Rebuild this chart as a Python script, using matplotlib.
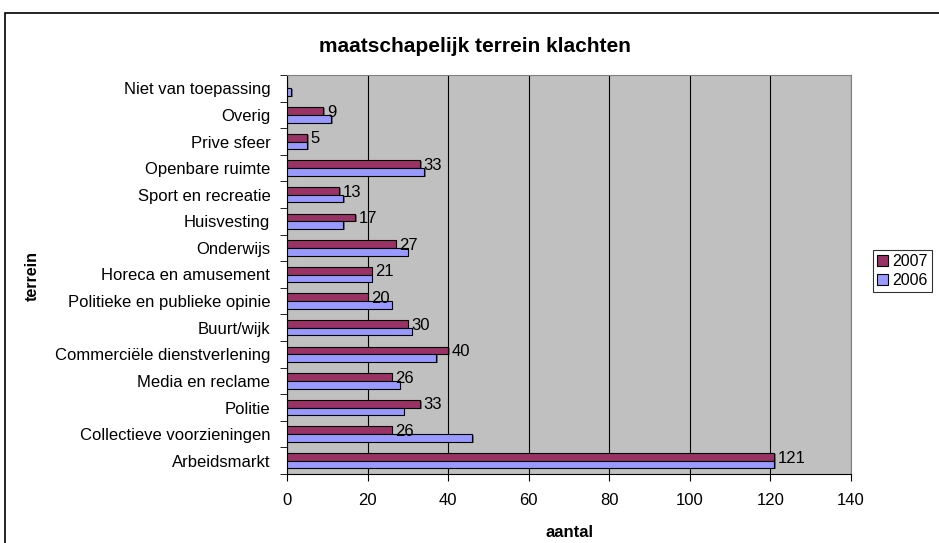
import numpy as np
import matplotlib
matplotlib.use("Agg")
import matplotlib.pyplot as plt
from matplotlib.patches import Rectangle

plt.rcParams['font.family'] = ['Liberation Sans', 'DejaVu Sans']

categories = ["Arbeidsmarkt", "Collectieve voorzieningen", "Politie", "Media en reclame",
              "Commerciële dienstverlening", "Buurt/wijk", "Politieke en publieke opinie",
              "Horeca en amusement", "Onderwijs", "Huisvesting", "Sport en recreatie",
              "Openbare ruimte", "Prive sfeer", "Overig", "Niet van toepassing"]
v2007 = [121, 26, 33, 26, 40, 30, 20, 21, 27, 17, 13, 33, 5, 9, 0]
v2006 = [121, 46, 29, 28, 37, 31, 26, 21, 30, 14, 14, 34, 5, 11, 1]

fig = plt.figure(figsize=(9.39, 5.43), dpi=100)
W, H = 939, 543
ax = fig.add_axes([287 / W, 1 - 474 / H, (851 - 287) / W, (474 - 75) / H])
ax.set_facecolor('#C0C0C0')

y = np.arange(len(categories))
h = 0.29
# faint drop shadow like the original
ax.barh(y + h / 2 - 0.04, v2007, height=h, left=0.4, color='#707070', zorder=2, linewidth=0)
ax.barh(y - h / 2 - 0.04, v2006, height=h, left=0.4, color='#707070', zorder=2, linewidth=0)
ax.barh(y + h / 2, v2007, height=h, color='#993366', edgecolor='black', linewidth=0.8, label='2007', zorder=3)
ax.barh(y - h / 2, v2006, height=h, color='#9999FF', edgecolor='black', linewidth=0.8, label='2006', zorder=3)

for yi, v in zip(y, v2007):
    if v > 0:
        ax.text(v + 0.9, yi + h / 2 - 0.05, str(v), va='center', ha='left', fontsize=12, zorder=4)

ax.set_xlim(0, 140)
ax.set_ylim(-0.5, len(categories) - 0.5)
ax.set_xticks(range(0, 141, 20))
ax.set_yticks(y)
ax.set_yticklabels(categories, fontsize=12)
ax.set_yticks(np.arange(-0.5, len(categories), 1), minor=True)
ax.tick_params(axis='y', which='major', length=0, pad=12)
ax.tick_params(axis='y', which='minor', length=5, direction='out')
ax.tick_params(axis='x', length=5, direction='out', labelsize=12, pad=9)
ax.grid(axis='x', color='black', linewidth=0.8, zorder=1)
ax.set_axisbelow(True)
for s in ['top', 'right']:
    ax.spines[s].set_color('#808080')
ax.spines['left'].set_color('black')
ax.spines['bottom'].set_color('black')

ax.set_xlabel('aantal', fontsize=12, fontweight='bold', labelpad=12)
fig.text(32 / W, 1 - 276 / H, 'terrein', rotation=90, ha='center', va='center',
         fontsize=11.5, fontweight='bold')
fig.text(475 / W, 1 - 46 / H, 'maatschapelijk terrein klachten', ha='center', va='center',
         fontsize=15, fontweight='bold')

leg = ax.legend(loc='center left', bbox_to_anchor=(873 / W, 1 - 271 / H), bbox_transform=fig.transFigure,
                fontsize=11.5, frameon=True, fancybox=False, edgecolor='black',
                handlelength=0.7, handleheight=0.7, handletextpad=0.25, borderpad=0.25,
                labelspacing=0.25, borderaxespad=0)
leg.get_frame().set_linewidth(0.8)

fig.patches.append(Rectangle((5 / W, -0.01), 1, 1 - 13 / H + 0.01, transform=fig.transFigure,
                             fill=False, edgecolor='black', linewidth=1.2))

fig.savefig('out.png', dpi=100)
